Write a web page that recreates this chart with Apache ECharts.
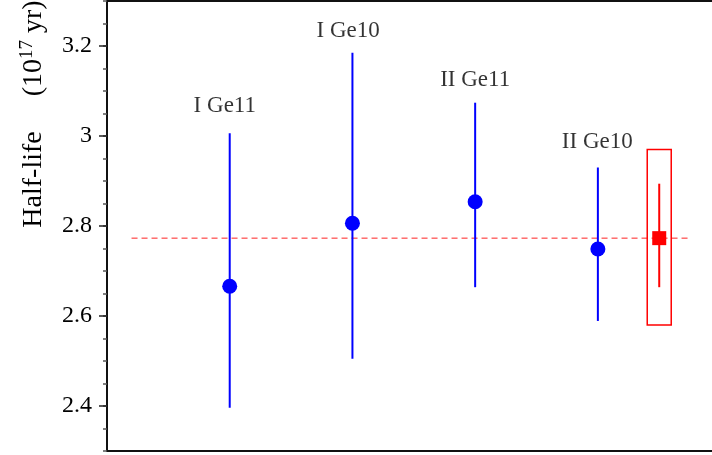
<!DOCTYPE html>
<html>
<head>
<meta charset="utf-8">
<script src="https://cdn.jsdelivr.net/npm/echarts@6/dist/echarts.min.js"></script>
<style>
  html, body { margin: 0; padding: 0; background: #fff; }
  #chart { width: 712px; height: 455px; }
</style>
</head>
<body>
<div id="chart"></div>
<script>
// detector runs
const categories = ['I Ge11', 'I Ge10', 'II Ge11', 'II Ge10']
const xPos = [1, 2, 3, 4]
const halfLife = [2.666, 2.806, 2.854, 2.749]
const errLow = [2.396, 2.505, 2.664, 2.589]
const errHigh = [3.006, 3.185, 3.074, 2.930]

// where each run's name sits
const labelX = [0.96, 1.965, 3.0, 3.995]
const labelY = [3.067, 3.234, 3.124, 2.986]

// weighted mean
const meanX = 4.5
const meanValue = 2.773
const meanLow = 2.664
const meanHigh = 2.894
const meanBox = [2.580, 2.970]
const meanLineX = [0.2, 4.76]

// axis
const yTickLabels = [2.4, 2.6, 2.8, 3.0, 3.2]

const serif = 'Liberation Serif'
const chart = echarts.init(document.getElementById('chart'))

const errorBar = (color) => (params, api) => {
  const top = api.coord([api.value(0), api.value(2)])
  const bottom = api.coord([api.value(0), api.value(1)])
  return {
    type: 'line',
    shape: { x1: top[0], y1: top[1], x2: bottom[0], y2: bottom[1] },
    style: { stroke: color, lineWidth: 2 }
  }
}

const frameAxis = (position) => ({
  type: 'value', min: 0, max: 4.93, position: position,
  axisLine: { show: true, onZero: false, lineStyle: { color: '#111', width: 2 } },
  axisTick: { show: false },
  axisLabel: { show: false },
  splitLine: { show: false }
})

chart.setOption({
  animation: false,
  grid: { left: 107, right: 0, top: 1, bottom: 4 },
  xAxis: [frameAxis('bottom'), frameAxis('top')],
  yAxis: [
    {
      type: 'value', min: 2.3, max: 3.3, interval: 0.05, position: 'left',
      axisLine: { show: true, lineStyle: { color: '#111', width: 2 } },
      axisTick: { show: true, length: 4, lineStyle: { color: '#555', width: 1.5 } },
      axisLabel: { show: false },
      splitLine: { show: false }
    },
    {
      type: 'value', min: 2.3, max: 3.3, position: 'left', offset: 0,
      axisLine: { show: false },
      axisTick: { show: true, length: 8, customValues: yTickLabels, lineStyle: { color: '#222', width: 1.5 } },
      axisLabel: {
        customValues: yTickLabels, margin: 15,
        fontFamily: serif, fontSize: 24, color: '#000'
      },
      splitLine: { show: false }
    }
  ],
  graphic: [{
    type: 'text',
    x: 33, y: 114,
    rotation: Math.PI / 2,
    style: {
      text: '{a|Half-life}{a|     (10}{sup|17}{a| yr)}',
      align: 'center',
      verticalAlign: 'middle',
      rich: {
        a: { fontFamily: serif, fontSize: 28, color: '#000', lineHeight: 30, verticalAlign: 'bottom' },
        sup: { fontFamily: serif, fontSize: 19, color: '#000', lineHeight: 30, verticalAlign: 'top' }
      }
    }
  }],
  series: [
    {
      type: 'line',
      data: [[meanLineX[0], meanValue], [meanLineX[1], meanValue]],
      symbol: 'none',
      lineStyle: { color: '#f22', width: 1, type: [6, 4] },
      z: 1
    },
    {
      type: 'custom',
      renderItem: errorBar('#0000ff'),
      data: xPos.map((x, i) => [x, errLow[i], errHigh[i]]),
      z: 2
    },
    {
      type: 'scatter',
      data: xPos.map((x, i) => [x, halfLife[i]]),
      symbol: 'circle', symbolSize: 15,
      itemStyle: { color: '#0000ff', opacity: 1 },
      z: 3
    },
    {
      type: 'scatter',
      data: labelX.map((x, i) => [x, labelY[i]]),
      symbolSize: 0,
      silent: true,
      label: {
        show: true, position: 'inside',
        formatter: (p) => categories[p.dataIndex],
        fontFamily: serif, fontSize: 23, color: '#000'
      },
      z: 3
    },
    {
      type: 'custom',
      renderItem: (params, api) => {
        const a = api.coord([api.value(0), api.value(2)])
        const b = api.coord([api.value(0), api.value(1)])
        return {
          type: 'rect',
          shape: { x: a[0] - 12, y: a[1], width: 24, height: b[1] - a[1] },
          style: { fill: 'none', stroke: '#ff0000', lineWidth: 1.5 }
        }
      },
      data: [[meanX, meanBox[0], meanBox[1]]],
      z: 2
    },
    {
      type: 'custom',
      renderItem: errorBar('#ff0000'),
      data: [[meanX, meanLow, meanHigh]],
      z: 2
    },
    {
      type: 'scatter',
      data: [[meanX, meanValue]],
      symbol: 'rect', symbolSize: 14,
      itemStyle: { color: '#ff0000', opacity: 1 },
      z: 3
    }
  ]
})
</script>
</body>
</html>
